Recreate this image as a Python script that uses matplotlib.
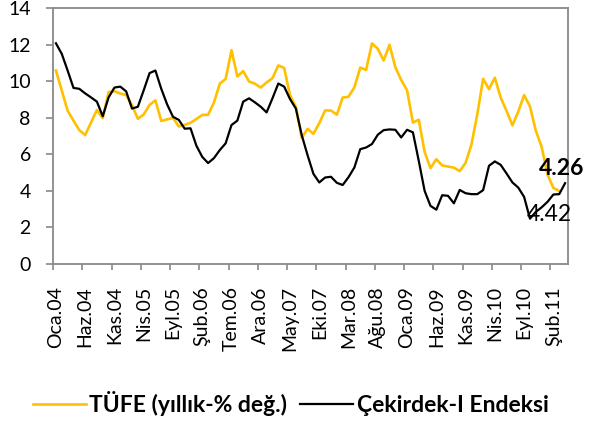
import matplotlib
matplotlib.use("Agg")
import matplotlib.pyplot as plt

# === VERİLER (aylık, Oca.04 - Nis.11) ===
ay_etiketleri = ["Oca.04", "Haz.04", "Kas.04", "Nis.05", "Eyl.05", "Şub.06",
                 "Tem.06", "Ara.06", "May.07", "Eki.07", "Mar.08", "Ağu.08",
                 "Oca.09", "Haz.09", "Kas.09", "Nis.10", "Eyl.10", "Şub.11"]
ay_sayisi = 88

tufe = [10.58, 9.48, 8.38, 7.84, 7.32, 7.05, 7.74, 8.42, 7.98, 9.40, 9.45, 9.32,
        9.24, 8.69, 7.94, 8.18, 8.70, 8.95, 7.82, 7.91, 7.99, 7.52, 7.61, 7.72,
        7.93, 8.15, 8.16, 8.83, 9.86, 10.12, 11.69, 10.26, 10.55, 9.98, 9.86, 9.65,
        9.93, 10.16, 10.86, 10.72, 9.23, 8.60, 6.90, 7.39, 7.12, 7.70, 8.40, 8.39,
        8.17, 9.10, 9.15, 9.66, 10.74, 10.61, 12.06, 11.77, 11.13, 11.99, 10.76, 10.06,
        9.50, 7.73, 7.89, 6.13, 5.24, 5.73, 5.39, 5.33, 5.27, 5.08, 5.53, 6.53,
        8.19, 10.13, 9.56, 10.19, 9.10, 8.37, 7.58, 8.33, 9.24, 8.62, 7.29, 6.40,
        4.90, 4.16, 3.99]

cekirdek = [12.07, 11.49, 10.58, 9.63, 9.58, 9.33, 9.11, 8.88, 8.08, 9.11, 9.65, 9.70,
            9.44, 8.50, 8.60, 9.50, 10.44, 10.58, 9.58, 8.73, 8.05, 7.88, 7.40, 7.42,
            6.47, 5.86, 5.52, 5.79, 6.23, 6.60, 7.60, 7.84, 8.88, 9.06, 8.84, 8.60,
            8.29, 9.06, 9.87, 9.70, 9.02, 8.50, 7.05, 5.95, 4.93, 4.46, 4.73, 4.77,
            4.44, 4.32, 4.75, 5.28, 6.28, 6.37, 6.56, 7.07, 7.32, 7.36, 7.34, 6.92,
            7.34, 7.20, 5.64, 4.00, 3.18, 2.97, 3.76, 3.73, 3.32, 4.05, 3.87, 3.82,
            3.82, 4.04, 5.37, 5.61, 5.42, 4.95, 4.46, 4.18, 3.67, 2.48, 2.85, 3.10,
            3.40, 3.80, 3.82, 4.42]

# === STİL ===
SARI = "#FFC000"
SIYAH = "#000000"
GRI = "#898989"
plt.rcParams['font.family'] = ['Lato', 'DejaVu Sans']

fig = plt.figure(figsize=(5.9, 4.28), dpi=100)
ax = fig.add_axes([53 / 590, 1 - 264 / 428, 515 / 590, 256 / 428])

ax.plot(range(len(tufe)), tufe, color=SARI, lw=1.9, label="TÜFE (yıllık-% değ.)")
ax.plot(range(len(cekirdek)), cekirdek, color=SIYAH, lw=1.6, label="Çekirdek-I Endeksi")

ax.set_xlim(-0.5, ay_sayisi - 0.5)
ax.set_ylim(0, 14)

# eksenler
for s in ax.spines.values():
    s.set_color(GRI)
    s.set_linewidth(1.3)

ax.set_yticks(range(0, 15, 2))
ax.tick_params(axis='y', direction='out', length=5, width=1.2, color=GRI,
               pad=11, labelsize=14, labelcolor='black')

# etiketler kategori ortasında, çentikler sınırlarda
ax.set_xticks(range(0, ay_sayisi, 5))
ax.set_xticklabels(ay_etiketleri, rotation=90, va='top', ha='center')
ax.set_xticks([i - 0.5 for i in range(0, ay_sayisi, 5)], minor=True)
ax.tick_params(axis='x', which='major', length=0, pad=16, labelsize=14)
ax.tick_params(axis='x', which='minor', direction='out', length=4.3, width=1.2, color=GRI)

# veri etiketleri
ax.text(82.6, 5.2, "4.26", fontsize=16.5, fontweight='bold', ha='left', va='center',
        clip_on=False)
ax.text(80.4, 2.68, "4.42", fontsize=16.5, ha='left', va='center', clip_on=False)

fig.legend(loc='center', bbox_to_anchor=(0.493, 0.058), ncol=2, frameon=False,
           prop={'weight': 'bold', 'size': 16.5}, handlelength=2.3,
           handletextpad=0.17, columnspacing=0.57)

fig.savefig("out.png", dpi=100)
